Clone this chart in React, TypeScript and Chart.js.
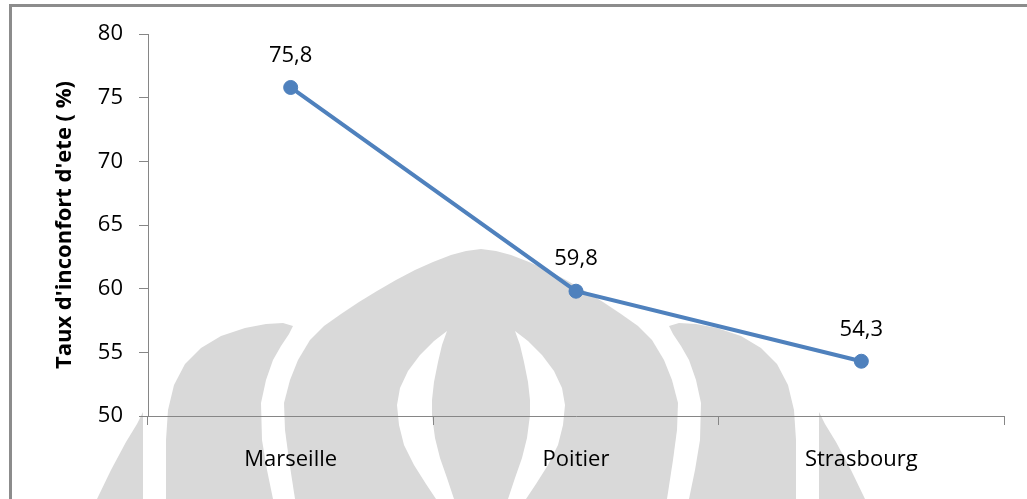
import React, { useEffect, useRef } from "react";
import { Chart, registerables } from "chart.js";

Chart.register(...registerables);

// Data
const cities: string[] = ["Marseille", "Poitier", "Strasbourg"];
const inconfortValues: number[] = [75.8, 59.8, 54.3];
const yTitle = "Taux d'inconfort d'ete ( %)";
const yMin = 50;
const yMax = 80;
const yStep = 5;

const W = 1027;
const H = 499;
const FONT = "'Open Sans', 'DejaVu Sans', sans-serif";
const LINE_BLUE = "#4F81BD";
const AXIS_GREY = "#868686";

// Watermark shape outlines, as [distance from centre line, y] pairs (right half)
const wmCenter = 481;
const domeEdge: [number, number][] = [
  [0, 249], [15, 251], [30, 255], [48, 262], [66, 270], [85, 280], [104, 291],
  [122, 302], [140, 314], [157, 326], [171, 340], [183, 360], [191, 380],
  [197, 403], [196, 430], [192, 460], [186, 499],
];
const petalInner: [number, number][] = [
  [188, 326], [192, 334], [200, 346], [208, 360], [215, 380], [220, 403],
  [219, 440], [214, 470], [208, 499],
];
const petalOuter: [number, number][] = [
  [315, 499], [315, 440], [313, 410], [307, 385], [296, 364], [280, 348],
  [260, 336], [236, 328], [215, 324], [198, 323],
];
const outerPetal: [number, number][] = [
  [338, 412], [338, 499], [384, 499], [370, 470], [355, 442], [344, 424],
];
const lensOuter: [number, number][] = [
  [34, 331], [47, 341], [61, 355], [73, 371], [81, 388], [84, 405],
  [82, 425], [77, 445], [67, 465], [55, 484], [45, 499],
];
const lensInner: [number, number][] = [
  [27, 499], [34, 478], [41, 458], [46, 438], [49, 415], [49, 400],
  [47, 382], [43, 362], [39, 345], [34, 331],
];

function tracePath(ctx: CanvasRenderingContext2D, pts: [number, number][], side: number) {
  ctx.beginPath();
  pts.forEach(([d, y], i) => {
    const x = wmCenter + side * d;
    if (i === 0) ctx.moveTo(x, y);
    else ctx.lineTo(x, y);
  });
  ctx.closePath();
}

function drawWatermark(ctx: CanvasRenderingContext2D) {
  ctx.save();
  ctx.fillStyle = "#d9d9d9";
  // central dome: right edge then mirrored left edge
  ctx.beginPath();
  domeEdge.forEach(([d, y], i) => {
    const x = wmCenter + d;
    if (i === 0) ctx.moveTo(x, y);
    else ctx.lineTo(x, y);
  });
  [...domeEdge].reverse().forEach(([d, y]) => ctx.lineTo(wmCenter - d, y));
  ctx.closePath();
  ctx.fill();
  // side petals
  for (const side of [1, -1]) {
    tracePath(ctx, [...petalInner, ...petalOuter], side);
    ctx.fill();
    tracePath(ctx, outerPetal, side);
    ctx.fill();
  }
  // white crescents inside the dome
  ctx.fillStyle = "#ffffff";
  for (const side of [1, -1]) {
    tracePath(ctx, [...lensOuter, ...lensInner], side);
    ctx.fill();
  }
  ctx.restore();
}

const backgroundPlugin = {
  id: "pageBackground",
  beforeDraw(chart: Chart) {
    const ctx = chart.ctx;
    ctx.save();
    ctx.fillStyle = "#ffffff";
    ctx.fillRect(0, 0, W, H);
    drawWatermark(ctx);
    // frame: top and left edges
    ctx.fillStyle = "#8c8c8c";
    ctx.fillRect(9, 4, W - 9, 3);
    ctx.fillRect(9, 4, 3, H - 4);
    ctx.restore();
  },
};

const valueLabelPlugin = {
  id: "valueLabels",
  afterDatasetsDraw(chart: Chart) {
    const ctx = chart.ctx;
    const meta = chart.getDatasetMeta(0);
    ctx.save();
    ctx.font = `22px ${FONT}`;
    ctx.fillStyle = "#000000";
    ctx.textAlign = "center";
    ctx.textBaseline = "middle";
    meta.data.forEach((pt: any, i: number) => {
      const text = inconfortValues[i].toFixed(1).replace(".", ",");
      ctx.fillText(text, pt.x, pt.y - 32);
    });
    ctx.restore();
  },
};

export default function App() {
  const canvasRef = useRef<HTMLCanvasElement | null>(null);

  useEffect(() => {
    if (!canvasRef.current) return;
    const chart = new Chart(canvasRef.current, {
      type: "line",
      data: {
        labels: cities,
        datasets: [
          {
            data: inconfortValues,
            borderColor: LINE_BLUE,
            backgroundColor: LINE_BLUE,
            borderWidth: 4,
            pointRadius: 7,
            pointBorderWidth: 1,
            pointBackgroundColor: LINE_BLUE,
            pointBorderColor: LINE_BLUE,
            tension: 0,
          },
        ],
      },
      options: {
        responsive: false,
        animation: false,
        devicePixelRatio: 1,
        layout: { padding: { top: 34, right: 23, left: 0, bottom: 0 } },
        plugins: {
          legend: { display: false },
          tooltip: { enabled: false },
        },
        scales: {
          x: {
            type: "category",
            offset: true,
            grid: {
              offset: true,
              drawOnChartArea: false,
              drawTicks: true,
              tickLength: 9,
              color: AXIS_GREY,
            },
            border: { display: true, color: AXIS_GREY, width: 1 },
            ticks: {
              font: { family: FONT, size: 22 },
              color: "#000000",
              padding: 22,
              maxRotation: 0,
            },
            afterFit(scale: any) {
              scale.height = H - 416;
            },
          },
          y: {
            min: yMin,
            max: yMax,
            grid: {
              drawOnChartArea: false,
              drawTicks: true,
              tickLength: 9,
              color: AXIS_GREY,
            },
            border: { display: true, color: AXIS_GREY, width: 1 },
            ticks: {
              stepSize: yStep,
              font: { family: FONT, size: 22 },
              color: "#000000",
              padding: 16,
            },
            title: {
              display: true,
              text: yTitle,
              font: { family: FONT, size: 22, weight: "bold" },
              color: "#000000",
              padding: { top: 52, bottom: 0 },
            },
            afterFit(scale: any) {
              scale.width = 148;
            },
          },
        },
      },
      plugins: [backgroundPlugin, valueLabelPlugin],
    });
    return () => chart.destroy();
  }, []);

  return (
    <div style={{ position: "fixed", left: 0, top: 0, width: W, height: H, background: "#fff" }}>
      <canvas ref={canvasRef} width={W} height={H} style={{ display: "block" }} />
    </div>
  );
}
